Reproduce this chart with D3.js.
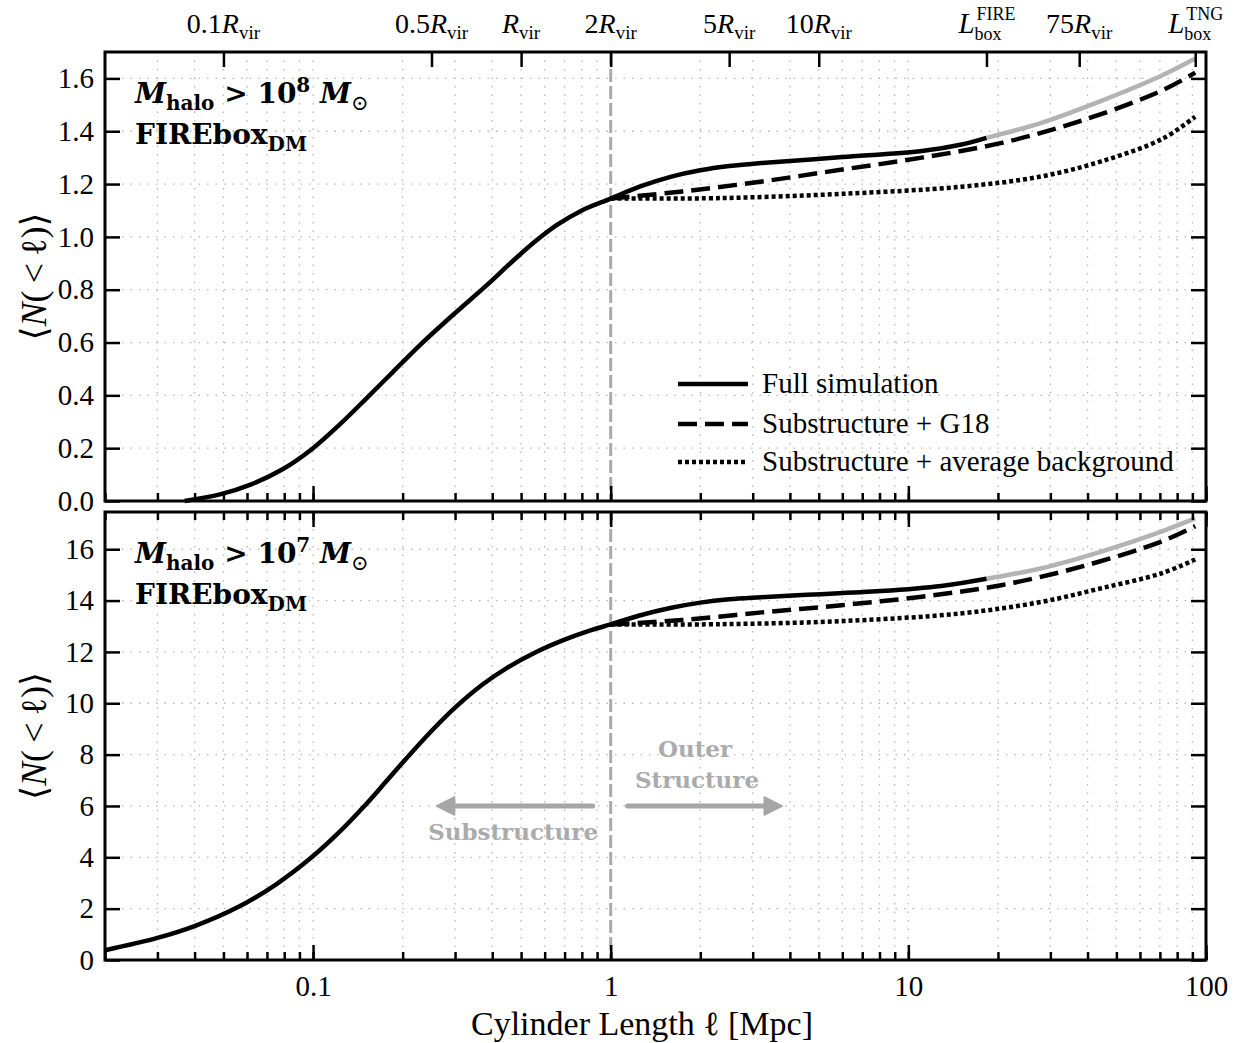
<!DOCTYPE html>
<html>
<head>
<meta charset="utf-8">
<script src="https://cdn.jsdelivr.net/npm/d3@7"></script>
<style>
  body { margin: 0; background: #fff; }
</style>
</head>
<body>
<script>
var width = 1239, height = 1043;
var plotLeft = 105, plotRight = 1206;
var serif = '"Liberation Serif", "DejaVu Serif", serif';
var boldSerif = '"DejaVu Serif", serif';

var xMin = 0.02, xMax = 100;
var lBoxFire = 18.3;   // full simulation is grey past the FIREbox size

// top panel: M_halo > 1e8
var fullXTop = [0.037, 0.0487, 0.062, 0.079, 0.1, 0.123, 0.15, 0.186, 0.231, 0.299, 0.386, 0.465, 0.561, 0.66, 0.8, 1,
                1.25, 1.6, 2.0, 2.5, 3.23, 6.0, 11.1, 15.1, 18.3, 28, 44.5, 70.8, 92];
var fullTop = [0, 0.025, 0.063, 0.12, 0.2, 0.29, 0.385, 0.49, 0.595, 0.71, 0.82, 0.905, 0.985, 1.045, 1.1, 1.145,
               1.19, 1.228, 1.252, 1.268, 1.28, 1.302, 1.325, 1.35, 1.375, 1.432, 1.515, 1.61, 1.675];
var g18XTop = [1, 1.74, 3.23, 6.0, 11.1, 20.6, 38.2, 70.8, 92];
var g18Top = [1.145, 1.172, 1.21, 1.255, 1.3, 1.356, 1.44, 1.553, 1.622];
var avgXTop = [1, 2.37, 6.0, 15.1, 28, 44.5, 70.8, 92];
var avgTop = [1.145, 1.147, 1.163, 1.19, 1.229, 1.286, 1.369, 1.455];

// bottom panel: M_halo > 1e7
var fullXBot = [0.02, 0.03, 0.04, 0.056, 0.075, 0.098, 0.12, 0.148, 0.175, 0.205, 0.25, 0.3, 0.37, 0.45, 0.56, 0.7, 0.85, 1,
                1.25, 1.6, 2.0, 2.5, 3.2, 4.4, 8.1, 12.9, 18.3, 28, 44.5, 70.8, 92];
var fullBot = [0.38, 0.86, 1.32, 2.06, 2.94, 3.96, 4.88, 5.97, 6.92, 7.83, 8.92, 9.83, 10.72, 11.39, 11.99, 12.48, 12.83, 13.07,
               13.42, 13.72, 13.92, 14.05, 14.13, 14.22, 14.37, 14.57, 14.85, 15.26, 15.91, 16.69, 17.2];
var g18XBot = [1, 1.73, 3.22, 5.97, 11.1, 20.5, 38.1, 70.8, 92];
var g18Bot = [13.07, 13.24, 13.54, 13.82, 14.15, 14.6, 15.32, 16.3, 16.9];
var avgXBot = [1, 2.36, 5.97, 15, 28, 44.5, 70.8, 92];
var avgBot = [13.07, 13.08, 13.2, 13.5, 13.95, 14.48, 15.06, 15.6];

var yTicksTop = [0, 0.2, 0.4, 0.6, 0.8, 1.0, 1.2, 1.4, 1.6];
var yTicksBot = [0, 2, 4, 6, 8, 10, 12, 14, 16];
var xMajorTicks = [0.1, 1, 10, 100];

// top axis: multiples of R_vir (0.5 Mpc) and the two box sizes
var rvirTicks = [0.05, 0.25, 0.5, 1, 2.5, 5, 18.3, 37.5, 92];
var rvirLabels = ['0.1', '0.5', '', '2', '5', '10', 'FIRE', '75', 'TNG'];

var legendNames = ['Full simulation', 'Substructure + G18', 'Substructure + average background'];

// arrows in the bottom panel (Mpc), at <N> = 6
var arrowFrom = [0.87, 1.14];
var arrowTo = [0.26, 3.77];
var arrowLevel = 6;

var dashG18 = '19,8';
var dashAvg = '4,3';
var greyLine = '#b3b3b3';
var greyText = '#ababab';

var xScale = d3.scaleLog().domain([xMin, xMax]).range([plotLeft, plotRight]);

var svg = d3.select('body').append('svg')
    .attr('width', width)
    .attr('height', height)
    .style('background', '#fff');

var panels = [
    {top: 52, bottom: 501, yMax: 1.7, yTicks: yTicksTop, fmt: d3.format('.1f'), mass: '8',
     full: d3.zip(fullXTop, fullTop), g18: d3.zip(g18XTop, g18Top), avg: d3.zip(avgXTop, avgTop)},
    {top: 512, bottom: 960, yMax: 17.45, yTicks: yTicksBot, fmt: d3.format('d'), mass: '7',
     full: d3.zip(fullXBot, fullBot), g18: d3.zip(g18XBot, g18Bot), avg: d3.zip(avgXBot, avgBot)}
];

function styleAxis(g, size) {
    g.select('.domain').remove();
    g.selectAll('line').attr('stroke', '#000').attr('stroke-width', 2.5);
    g.selectAll('text').attr('font-family', serif).attr('font-size', size || 29).attr('fill', '#000');
}

function drawPanel(p, i) {
    var yScale = d3.scaleLinear().domain([0, p.yMax]).range([p.bottom, p.top]);
    var g = svg.append('g');

    // dotted grid
    g.selectAll('.vgrid').data(xScale.ticks()).enter().append('line')
        .attr('x1', function (d) { return xScale(d); })
        .attr('x2', function (d) { return xScale(d); })
        .attr('y1', p.top).attr('y2', p.bottom)
        .attr('stroke', '#b8b8b8').attr('stroke-width', 1.3).attr('stroke-dasharray', '1.5,7');
    g.selectAll('.hgrid').data(p.yTicks).enter().append('line')
        .attr('x1', plotLeft).attr('x2', plotRight)
        .attr('y1', function (d) { return yScale(d); })
        .attr('y2', function (d) { return yScale(d); })
        .attr('stroke', '#b8b8b8').attr('stroke-width', 1.3).attr('stroke-dasharray', '1.5,7');

    // 2 R_vir divider
    g.append('line')
        .attr('x1', xScale(1)).attr('x2', xScale(1))
        .attr('y1', p.top).attr('y2', p.bottom)
        .attr('stroke', '#aaaaaa').attr('stroke-width', 3).attr('stroke-dasharray', '13,4');

    var line = d3.line()
        .x(function (d) { return xScale(d[0]); })
        .y(function (d) { return yScale(d[1]); })
        .curve(d3.curveCatmullRom.alpha(0.5));

    g.append('path').datum(p.avg).attr('d', line)
        .attr('fill', 'none').attr('stroke', '#000').attr('stroke-width', 4.5).attr('stroke-dasharray', dashAvg);
    g.append('path').datum(p.g18).attr('d', line)
        .attr('fill', 'none').attr('stroke', '#000').attr('stroke-width', 4.5).attr('stroke-dasharray', dashG18);
    g.append('path').datum(p.full.filter(function (d) { return d[0] >= lBoxFire; })).attr('d', line)
        .attr('fill', 'none').attr('stroke', greyLine).attr('stroke-width', 4.5);
    g.append('path').datum(p.full.filter(function (d) { return d[0] <= lBoxFire; })).attr('d', line)
        .attr('fill', 'none').attr('stroke', '#000').attr('stroke-width', 4.5);

    // axes, ticks pointing inwards
    g.append('g').attr('transform', 'translate(' + plotLeft + ',0)')
        .call(d3.axisLeft(yScale).tickValues(p.yTicks).tickSizeInner(-15).tickSizeOuter(0).tickPadding(11).tickFormat(p.fmt))
        .call(styleAxis);
    g.append('g').attr('transform', 'translate(' + plotRight + ',0)')
        .call(d3.axisRight(yScale).tickValues(p.yTicks).tickSizeInner(-15).tickSizeOuter(0).tickFormat(''))
        .call(styleAxis);
    g.append('g').attr('transform', 'translate(0,' + p.bottom + ')')
        .call(d3.axisBottom(xScale).tickValues(xScale.ticks()).tickSizeInner(-8).tickSizeOuter(0).tickFormat(''))
        .call(styleAxis);
    g.append('g').attr('transform', 'translate(0,' + p.bottom + ')')
        .call(d3.axisBottom(xScale).tickValues(xMajorTicks).tickSizeInner(-15).tickSizeOuter(0).tickPadding(15)
            .tickFormat(i === 1 ? d3.format('~g') : ''))
        .call(styleAxis);

    if (i === 1) {
        g.append('g').attr('transform', 'translate(0,' + p.top + ')')
            .call(d3.axisTop(xScale).tickValues(xScale.ticks()).tickSizeInner(-8).tickSizeOuter(0).tickFormat(''))
            .call(styleAxis);
        g.append('g').attr('transform', 'translate(0,' + p.top + ')')
            .call(d3.axisTop(xScale).tickValues(xMajorTicks).tickSizeInner(-15).tickSizeOuter(0).tickFormat(''))
            .call(styleAxis);
    } else {
        g.append('g').attr('transform', 'translate(0,' + p.top + ')')
            .call(d3.axisTop(xScale).tickValues(rvirTicks).tickSizeInner(-15).tickSizeOuter(0).tickFormat(''))
            .call(styleAxis);
    }

    g.append('rect')
        .attr('x', plotLeft).attr('y', p.top)
        .attr('width', plotRight - plotLeft).attr('height', p.bottom - p.top)
        .attr('fill', 'none').attr('stroke', '#000').attr('stroke-width', 3);

    // y label
    var yl = g.append('text')
        .attr('transform', 'translate(46,' + ((p.top + p.bottom) / 2) + ') rotate(-90)')
        .attr('text-anchor', 'middle')
        .attr('font-family', serif).attr('font-size', 36);
    yl.append('tspan').text('\u27E8');
    yl.append('tspan').attr('font-style', 'italic').text('N');
    yl.append('tspan').text('(\u2009<\u2009\u2113)');
    yl.append('tspan').text('\u27E9');

    // panel tag
    var t = g.append('text').attr('x', 135).attr('y', p.top + 51)
        .attr('font-family', boldSerif).attr('font-weight', 'bold').attr('font-size', 28);
    t.append('tspan').attr('font-style', 'italic').text('M');
    t.append('tspan').attr('font-size', 20).attr('dy', 7).text('halo');
    t.append('tspan').attr('dy', -7).text(' > 10');
    t.append('tspan').attr('font-size', 20).attr('dy', -11).text(p.mass);
    t.append('tspan').attr('dy', 11).attr('font-style', 'italic').text(' M');
    t.append('tspan').attr('font-size', 21).attr('dy', 7).attr('font-weight', 'normal').text('\u2299');

    var f = g.append('text').attr('x', 135).attr('y', p.top + 92)
        .attr('font-family', boldSerif).attr('font-weight', 'bold').attr('font-size', 28);
    f.append('tspan').text('FIREbox');
    f.append('tspan').attr('font-size', 20).attr('dy', 7).text('DM');

    return yScale;
}

var yScales = panels.map(drawPanel);

// top axis labels
rvirLabels.forEach(function (lab, k) {
    var x = xScale(rvirTicks[k]);
    if (lab === 'FIRE' || lab === 'TNG') {
        var lg = svg.append('g');
        var tl = lg.append('text').attr('font-family', serif).attr('font-size', 29)
            .attr('font-style', 'italic').text('L');
        var wl = tl.node().getComputedTextLength();
        lg.append('text').attr('x', wl + 2).attr('y', -13).attr('font-family', serif).attr('font-size', 18).text(lab);
        lg.append('text').attr('x', wl).attr('y', 7).attr('font-family', serif).attr('font-size', 18).text('box');
        var bb = lg.node().getBBox();
        lg.attr('transform', 'translate(' + (x - bb.x - bb.width / 2) + ',33)');
    } else {
        var tt = svg.append('text').attr('x', x).attr('y', 33)
            .attr('text-anchor', 'middle').attr('font-family', serif).attr('font-size', 28);
        tt.append('tspan').text(lab);
        tt.append('tspan').attr('font-style', 'italic').text('R');
        tt.append('tspan').attr('font-size', 19).attr('dy', 6).text('vir');
    }
});

// legend (top panel)
var legY = [384, 424, 462];
var legDash = [null, dashG18, dashAvg];
legendNames.forEach(function (name, k) {
    svg.append('line')
        .attr('x1', 678).attr('x2', 748).attr('y1', legY[k]).attr('y2', legY[k])
        .attr('stroke', '#000').attr('stroke-width', 4.5)
        .attr('stroke-dasharray', legDash[k]);
    svg.append('text').attr('x', 762).attr('y', legY[k] + 9)
        .attr('font-family', serif).attr('font-size', 29).text(name);
});

// substructure / outer structure annotation (bottom panel)
var yb = yScales[1];
arrowFrom.forEach(function (x0, k) {
    var xa = xScale(x0), xb = xScale(arrowTo[k]), ya = yb(arrowLevel);
    var dir = xb > xa ? 1 : -1;
    svg.append('line')
        .attr('x1', xa).attr('x2', xb - dir * 14).attr('y1', ya).attr('y2', ya)
        .attr('stroke', '#a6a6a6').attr('stroke-width', 5).attr('stroke-linecap', 'round');
    svg.append('path')
        .attr('d', 'M' + xb + ',' + ya + 'L' + (xb - dir * 18) + ',' + (ya - 9) + 'L' + (xb - dir * 18) + ',' + (ya + 9) + 'Z')
        .attr('fill', '#a6a6a6').attr('stroke', '#a6a6a6').attr('stroke-width', 1.5).attr('stroke-linejoin', 'round');
});

svg.append('text').attr('x', xScale(1.92)).attr('y', yb(7.9))
    .attr('text-anchor', 'middle').attr('font-family', boldSerif).attr('font-weight', 'bold')
    .attr('font-size', 23).attr('fill', greyText).text('Outer');
svg.append('text').attr('x', xScale(1.95)).attr('y', yb(6.7))
    .attr('text-anchor', 'middle').attr('font-family', boldSerif).attr('font-weight', 'bold')
    .attr('font-size', 23).attr('fill', greyText).text('Structure');
svg.append('text').attr('x', xScale(0.47)).attr('y', yb(4.67))
    .attr('text-anchor', 'middle').attr('font-family', boldSerif).attr('font-weight', 'bold')
    .attr('font-size', 23).attr('fill', greyText).text('Substructure');

// x label
var xl = svg.append('text').attr('x', 642).attr('y', 1035)
    .attr('text-anchor', 'middle').attr('font-family', serif).attr('font-size', 34);
xl.append('tspan').text('Cylinder Length \u2113 [Mpc]');
</script>
</body>
</html>
